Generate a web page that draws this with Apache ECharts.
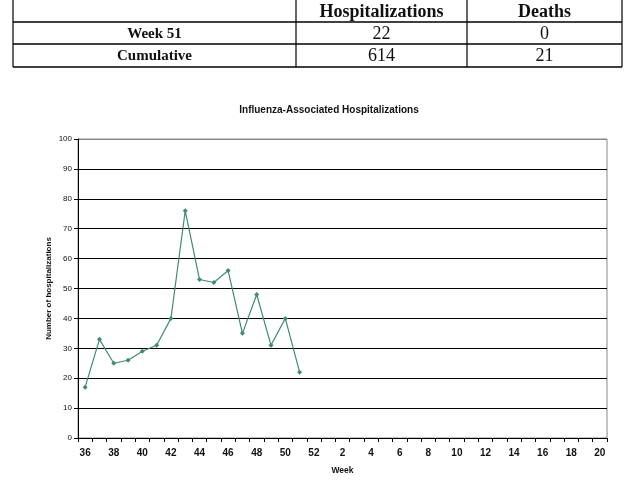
<!DOCTYPE html>
<html>
<head>
<meta charset="utf-8">
<script src="https://cdn.jsdelivr.net/npm/echarts@6/dist/echarts.min.js"></script>
<style>
  html, body { margin: 0; padding: 0; background: #fff; }
  #chart { width: 643px; height: 486px; }
</style>
</head>
<body>
<div id="chart"></div>
<script>
// summary table at the top
const tableColumns = ['Hospitalizations', 'Deaths'];
const tableRows = ['Week 51', 'Cumulative'];
const tableHosp = [22, 614];
const tableDeaths = [0, 21];

// weekly counts, weeks 36..52 then 1..20
const weeks = ['36', '37', '38', '39', '40', '41', '42', '43', '44', '45', '46', '47', '48', '49', '50', '51', '52',
  '1', '2', '3', '4', '5', '6', '7', '8', '9', '10', '11', '12', '13', '14', '15', '16', '17', '18', '19', '20'];
const hospitalizations = [17, 33, 25, 26, 29, 31, 40, 76, 53, 52, 56, 35, 48, 31, 40, 22];

const serif = '"Liberation Serif", "Times New Roman", serif';
const sans = '"Liberation Sans", Arial, sans-serif';

// table geometry
const colX = [13, 296, 467, 622];
const rowY = [0, 22, 44, 67];

function tableGraphic() {
  let els = [];
  rowY.slice(1).forEach(y => {
    els.push({ type: 'line', shape: { x1: colX[0], y1: y, x2: colX[3], y2: y }, style: { stroke: '#000', lineWidth: 1.5 } });
  });
  colX.forEach(x => {
    els.push({ type: 'line', shape: { x1: x, y1: 0, x2: x, y2: rowY[3] }, style: { stroke: '#000', lineWidth: 1.2 } });
  });
  const mid = i => (colX[i] + colX[i + 1]) / 2;
  const rmid = i => (rowY[i] + rowY[i + 1]) / 2 + 1;
  tableColumns.forEach((c, i) => {
    els.push({ type: 'text', x: mid(i + 1), y: rmid(0), style: { text: c, font: 'bold 18px ' + serif, fill: '#111', align: 'center', verticalAlign: 'middle' } });
  });
  tableRows.forEach((r, j) => {
    els.push({ type: 'text', x: mid(0), y: rmid(j + 1), style: { text: r, font: 'bold 15px ' + serif, fill: '#111', align: 'center', verticalAlign: 'middle' } });
    els.push({ type: 'text', x: mid(1), y: rmid(j + 1), style: { text: String(tableHosp[j]), font: '18px ' + serif, fill: '#111', align: 'center', verticalAlign: 'middle' } });
    els.push({ type: 'text', x: mid(2), y: rmid(j + 1), style: { text: String(tableDeaths[j]), font: '18px ' + serif, fill: '#111', align: 'center', verticalAlign: 'middle' } });
  });
  return els;
}

const chart = echarts.init(document.getElementById('chart'), null, { renderer: 'canvas' });

const gridColors = ['#000', '#000', '#000', '#000', '#000', '#000', '#000', '#000', '#000', '#000', '#888'];

chart.setOption({
  animation: false,
  backgroundColor: '#fff',
  title: {
    text: 'Influenza-Associated Hospitalizations',
    left: 324,
    textAlign: 'center',
    top: 100,
    textStyle: { fontFamily: sans, fontSize: 10, fontWeight: 'bold', color: '#111' }
  },
  grid: { left: 78, right: 36, top: 139, bottom: 48, show: true, borderColor: '#888', borderWidth: 1 },
  xAxis: {
    type: 'category',
    data: weeks,
    boundaryGap: true,
    name: 'Week',
    nameLocation: 'middle',
    nameGap: 28,
    nameMoveOverlap: false,
    nameTextStyle: { fontFamily: sans, fontSize: 8.5, fontWeight: 'bold', color: '#111' },
    axisLine: { lineStyle: { color: '#000', width: 1 } },
    axisTick: { show: true, interval: 0, length: 4, lineStyle: { color: '#000' } },
    axisLabel: { interval: 1, margin: 10, fontFamily: sans, fontSize: 10, fontWeight: 'bold', color: '#111' },
    splitLine: { show: false }
  },
  yAxis: {
    type: 'value',
    min: 0,
    max: 100,
    interval: 10,
    name: 'Number of hospitalizations',
    nameLocation: 'middle',
    nameGap: 25,
    nameMoveOverlap: false,
    nameRotate: 90,
    nameTextStyle: { fontFamily: sans, fontSize: 8, fontWeight: 'bold', color: '#111' },
    axisLine: { show: true, lineStyle: { color: '#000', width: 1 } },
    axisTick: { show: true, length: 4, lineStyle: { color: '#000' } },
    axisLabel: { margin: 6, fontFamily: sans, fontSize: 8, color: '#111' },
    splitLine: { show: true, lineStyle: { color: gridColors, width: 1.2 } }
  },
  series: [{
    type: 'line',
    data: hospitalizations,
    symbol: 'diamond',
    symbolSize: 5,
    showSymbol: true,
    lineStyle: { color: '#3f8c6e', width: 1.2 },
    itemStyle: { color: '#3f8c6e' }
  }],
  graphic: tableGraphic()
});
</script>
</body>
</html>
